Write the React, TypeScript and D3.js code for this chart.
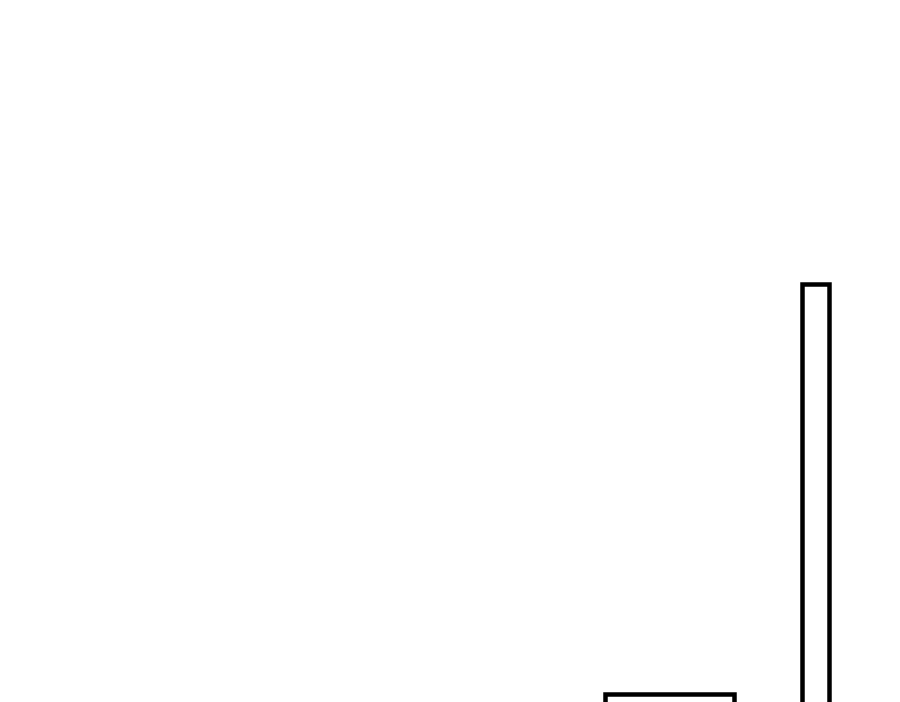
import React, { useEffect, useRef } from 'react';
import * as d3 from 'd3';

// bar edges (start, end) and heights
const binStarts = [60.55, 80.25];
const binEnds = [73.45, 82.95];
const binValues = [30.55, 71.55];

const width = 900;
const height = 702;

export default function App() {
  const svgRef = useRef<SVGSVGElement>(null);

  useEffect(() => {
    if (!svgRef.current) return;
    const svg = d3.select(svgRef.current);
    svg.selectAll('*').remove();

    const x = d3.scaleLinear().domain([0, 90]).range([0, width]);
    // plot floor sits below the visible window
    const y = d3.scaleLinear().domain([0, 100]).range([1000, 0]);

    const data = binValues.map((v, i) => ({ x0: binStarts[i], x1: binEnds[i], v }));

    svg.append('g')
      .selectAll('rect')
      .data(data)
      .join('rect')
      .attr('x', d => x(d.x0))
      .attr('y', d => y(d.v))
      .attr('width', d => x(d.x1) - x(d.x0))
      .attr('height', d => y(0) - y(d.v))
      .attr('fill', '#fff')
      .attr('stroke', '#000')
      .attr('stroke-width', 4.5);
  }, []);

  return (
    <svg
      ref={svgRef}
      width={width}
      height={height}
      style={{ position: 'absolute', left: 0, top: 0, background: '#fff' }}
    />
  );
}
